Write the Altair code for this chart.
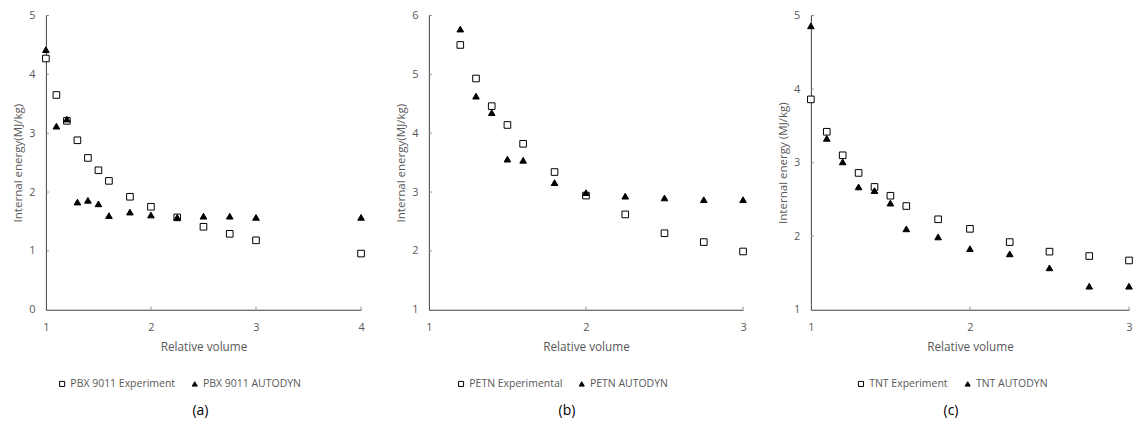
import altair as alt
import pandas as pd

# ---------------- data ----------------
# (a) PBX 9011
a_names = ["PBX 9011 Experiment", "PBX 9011 AUTODYN"]
a_vol = [1.0, 1.1, 1.2, 1.3, 1.4, 1.5, 1.6, 1.8, 2.0, 2.25, 2.5, 2.75, 3.0, 4.0]
a_exp = [4.27, 3.65, 3.21, 2.88, 2.58, 2.37, 2.19, 1.92, 1.75, 1.57, 1.41, 1.29, 1.18, 0.955]
a_sim = [4.42, 3.12, 3.24, 1.83, 1.86, 1.80, 1.60, 1.66, 1.61, 1.57, 1.59, 1.59, 1.57, 1.57]

# (b) PETN
b_names = ["PETN Experimental", "PETN AUTODYN"]
b_vol = [1.2, 1.3, 1.4, 1.5, 1.6, 1.8, 2.0, 2.25, 2.5, 2.75, 3.0]
b_exp = [5.50, 4.93, 4.46, 4.14, 3.82, 3.34, 2.94, 2.62, 2.30, 2.15, 1.99]
b_sim = [5.77, 4.63, 4.35, 3.56, 3.54, 3.16, 2.99, 2.93, 2.90, 2.87, 2.87]

# (c) TNT
c_names = ["TNT Experiment", "TNT AUTODYN"]
c_vol = [1.0, 1.1, 1.2, 1.3, 1.4, 1.5, 1.6, 1.8, 2.0, 2.25, 2.5, 2.75, 3.0]
c_exp = [3.86, 3.42, 3.10, 2.86, 2.67, 2.55, 2.41, 2.23, 2.10, 1.92, 1.79, 1.73, 1.67]
c_sim = [4.86, 3.33, 3.01, 2.67, 2.62, 2.45, 2.10, 1.99, 1.83, 1.76, 1.57, 1.32, 1.32]

a_xticks, a_yticks = [1, 2, 3, 4], [0, 1, 2, 3, 4, 5]
b_xticks, b_yticks = [1, 2, 3], [1, 2, 3, 4, 5, 6]
c_xticks, c_yticks = [1, 2, 3], [1, 2, 3, 4, 5]

FONT = "Open Sans"
TXT = "#595959"
HEIGHT = 295


def panel(vol, e_exp, e_sim, names, xticks, yticks, ytitle, sub, width,
          legend_x, sub_dx):
    df = pd.DataFrame({
        "vol": vol + vol,
        "energy": e_exp + e_sim,
        "series": [names[0]] * len(vol) + [names[1]] * len(vol),
    })
    xs = alt.Scale(domain=[xticks[0], xticks[-1]], nice=False, zero=False)
    ys = alt.Scale(domain=[yticks[0], yticks[-1]], nice=False, zero=False)
    xax = alt.Axis(
        tickCount=len(xticks) - 1, title="Relative volume", grid=False,
        ticks=False, domainColor="#404040", labelFont=FONT, labelFontSize=11,
        labelColor=TXT, labelPadding=12, labelOverlap=False, labelFlush=False,
        titleFont=FONT, titleFontSize=11.8,
        titleColor=TXT, titleFontWeight="normal", titlePadding=9,
        format="d")
    yax = alt.Axis(
        tickCount=len(yticks) - 1, title=ytitle, grid=False, ticks=False,
        domainColor="#404040", labelFont=FONT, labelFontSize=11,
        labelColor=TXT, labelPadding=11, labelOverlap=False, labelFlush=False,
        titleFont=FONT, titleFontSize=11.6,
        titleColor=TXT, titleFontWeight="normal", titlePadding=5,
        format="d")
    leg = alt.Legend(
        title=None, orient="none", direction="horizontal",
        legendX=legend_x, legendY=364, padding=0,
        symbolSize=26, symbolStrokeWidth=1,
        labelFont=FONT, labelFontSize=10.5, labelColor=TXT,
        labelOffset=3, columnPadding=14,
    )
    pts = alt.Chart(df).mark_point(
        filled=True, strokeWidth=1, opacity=1, size=44
    ).encode(
        x=alt.X("vol:Q", scale=xs, axis=xax),
        y=alt.Y("energy:Q", scale=ys, axis=yax),
        shape=alt.Shape("series:N", scale=alt.Scale(
            domain=names, range=["square", "triangle-up"]), legend=leg),
        fill=alt.Fill("series:N", scale=alt.Scale(
            domain=names, range=["white", "black"]), legend=leg),
        stroke=alt.Stroke("series:N", scale=alt.Scale(
            domain=names, range=["black", "black"]), legend=leg),
    )
    xt = alt.Chart(pd.DataFrame({"vol": xticks[1:]})).mark_rule(
        color="#8c8c8c", strokeWidth=1
    ).encode(
        x=alt.X("vol:Q", scale=xs, axis=xax),
        y=alt.value(HEIGHT), y2=alt.value(HEIGHT - 3),
    )
    yt = alt.Chart(pd.DataFrame({"energy": yticks[1:]})).mark_rule(
        color="#8c8c8c", strokeWidth=1
    ).encode(
        y=alt.Y("energy:Q", scale=ys, axis=yax),
        x=alt.value(0), x2=alt.value(3),
    )
    return alt.layer(pts, xt, yt).properties(
        width=width, height=HEIGHT,
        title=alt.TitleParams(
            text=sub, orient="bottom", anchor="middle", frame="group",
            font=FONT, fontSize=14, fontWeight="normal", color="black",
            offset=15, dx=sub_dx),
    )


pa = panel(a_vol, a_exp, a_sim, a_names, a_xticks, a_yticks,
           "Internal energy(MJ/kg)", "(a)", 316, 11, -3)
pb = panel(b_vol, b_exp, b_sim, b_names, b_xticks, b_yticks,
           "Internal energy(MJ/kg)", "(b)", 315, 27, -19)
pc = panel(c_vol, c_exp, c_sim, c_names, c_xticks, c_yticks,
           "Internal energy (MJ/kg)", "(c)", 319, 45, -19)

chart = alt.hconcat(pa, pb, pc, spacing=68, bounds="flush").resolve_scale(
    shape="independent", fill="independent", stroke="independent"
).properties(
    padding={"left": 4, "top": 1, "right": 0, "bottom": 0},
    background="white",
).configure_view(strokeWidth=0)

chart.save("out.html", embed_options={"renderer": "svg", "actions": False})
